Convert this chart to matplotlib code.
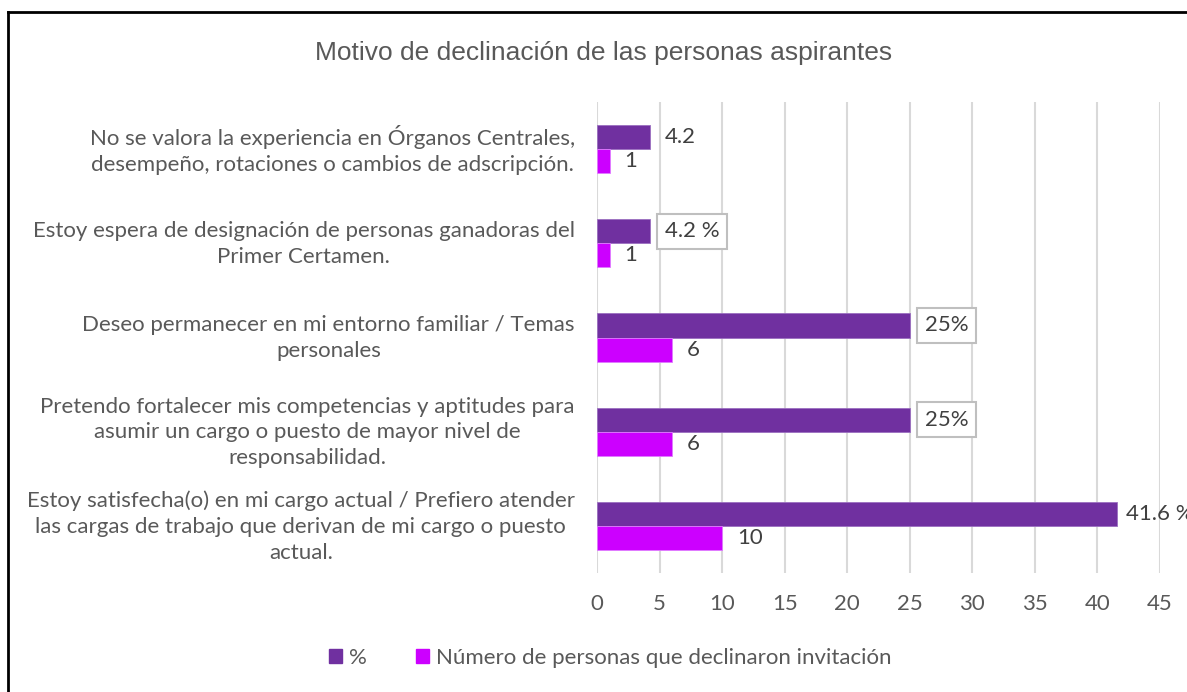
import numpy as np
import matplotlib
matplotlib.use("Agg")
from matplotlib import pyplot as plt
from matplotlib.patches import Patch
from matplotlib.lines import Line2D
from matplotlib.transforms import ScaledTranslation

# data
categorias = [
    "No se valora la experiencia en Órganos Centrales,\ndesempeño, rotaciones o cambios de adscripción.",
    "Estoy espera de designación de personas ganadoras del\nPrimer Certamen.",
    "Deseo permanecer en mi entorno familiar / Temas\npersonales",
    "Pretendo fortalecer mis competencias y aptitudes para\nasumir un cargo o puesto de mayor nivel de\nresponsabilidad.",
    "Estoy satisfecha(o) en mi cargo actual / Prefiero atender\nlas cargas de trabajo que derivan de mi cargo o puesto\nactual.",
]
porcentaje = [4.2, 4.2, 25, 25, 41.6]
personas = [1, 1, 6, 6, 10]
etiquetas_pct = ["4.2", "4.2 %", "25%", "25%", "41.6 %"]
con_caja = [False, True, True, True, False]
etiquetas_num = ["1", "1", "6", "6", "10"]
xticks = [0, 5, 10, 15, 20, 25, 30, 35, 40, 45]

morado = "#7030A0"
magenta = "#CC00FF"
gris_txt = "#595959"

plt.rcParams['font.family'] = ['Lato', 'DejaVu Sans']

fig = plt.figure(figsize=[11.87, 6.92], dpi=100)
ax = fig.add_axes([597/1187, 1 - 573/692, (1160 - 597)/1187, (573 - 102)/692])

y = np.arange(len(categorias))
h = 0.255
ax.barh(y - h/2, porcentaje, height=h, color=morado, edgecolor="#9b6fc0", linewidth=0.6, zorder=3)
ax.barh(y + h/2, personas, height=h, color=magenta, edgecolor="#e07bff", linewidth=0.6, zorder=3)

for i in range(len(categorias)):
    kw = dict(va='center', ha='left', fontsize=16, color="#404040", zorder=4)
    if con_caja[i]:
        kw['bbox'] = dict(boxstyle='square,pad=0.33', fc='white', ec='#BFBFBF', lw=1.5)
    # label near the right edge gets pulled in a bit, like excel does
    dx = 9 if porcentaje[i] > 40 else 15
    ax.annotate(etiquetas_pct[i], (porcentaje[i], y[i] - h/2), xytext=(dx, 0),
                textcoords='offset pixels', annotation_clip=False, **kw)
    ax.annotate(etiquetas_num[i], (personas[i], y[i] + h/2), xytext=(15, 0),
                textcoords='offset pixels', va='center', ha='left', fontsize=16,
                color="#404040", zorder=4)

ax.set_xlim(0, 45)
ax.set_ylim(len(categorias) - 0.5, -0.5)
ax.set_xticks(xticks)
ax.set_xticklabels([str(t) for t in xticks])
ax.set_yticks(y)
ax.set_yticklabels(categorias, multialignment='center', linespacing=1.37)
ax.tick_params(axis='x', length=0, pad=15, labelsize=16, labelcolor=gris_txt)
ax.tick_params(axis='y', length=0, pad=16, labelsize=16, labelcolor=gris_txt)
subir = ScaledTranslation(0, 3/72, fig.dpi_scale_trans)
for lab in ax.get_yticklabels():
    lab.set_transform(lab.get_transform() + subir)
ax.grid(axis='x', color='#D9D9D9', linewidth=1.5, zorder=0)
ax.set_axisbelow(True)
for s in ax.spines.values():
    s.set_visible(False)

fig.text(604/1187, 1 - 53/692, "Motivo de declinación de las personas aspirantes",
         ha='center', va='center', fontsize=19, color=gris_txt, family='Liberation Sans')

handles = [Patch(color=morado), Patch(color=magenta)]
fig.legend(handles, ["%", "Número de personas que declinaron invitación"],
           loc='center', bbox_to_anchor=(610/1187, 1 - 658/692), ncol=2, frameon=False,
           fontsize=16, labelcolor=gris_txt, handlelength=0.6, handleheight=0.6,
           handletextpad=0.3, columnspacing=2.2)

# chart border
fig.add_artist(Line2D([8/1187, 8/1187], [0, 1 - 12/692], color='black', lw=2))
fig.add_artist(Line2D([8/1187, 1], [1 - 12/692, 1 - 12/692], color='black', lw=2))

fig.savefig("out.png", dpi=100)
